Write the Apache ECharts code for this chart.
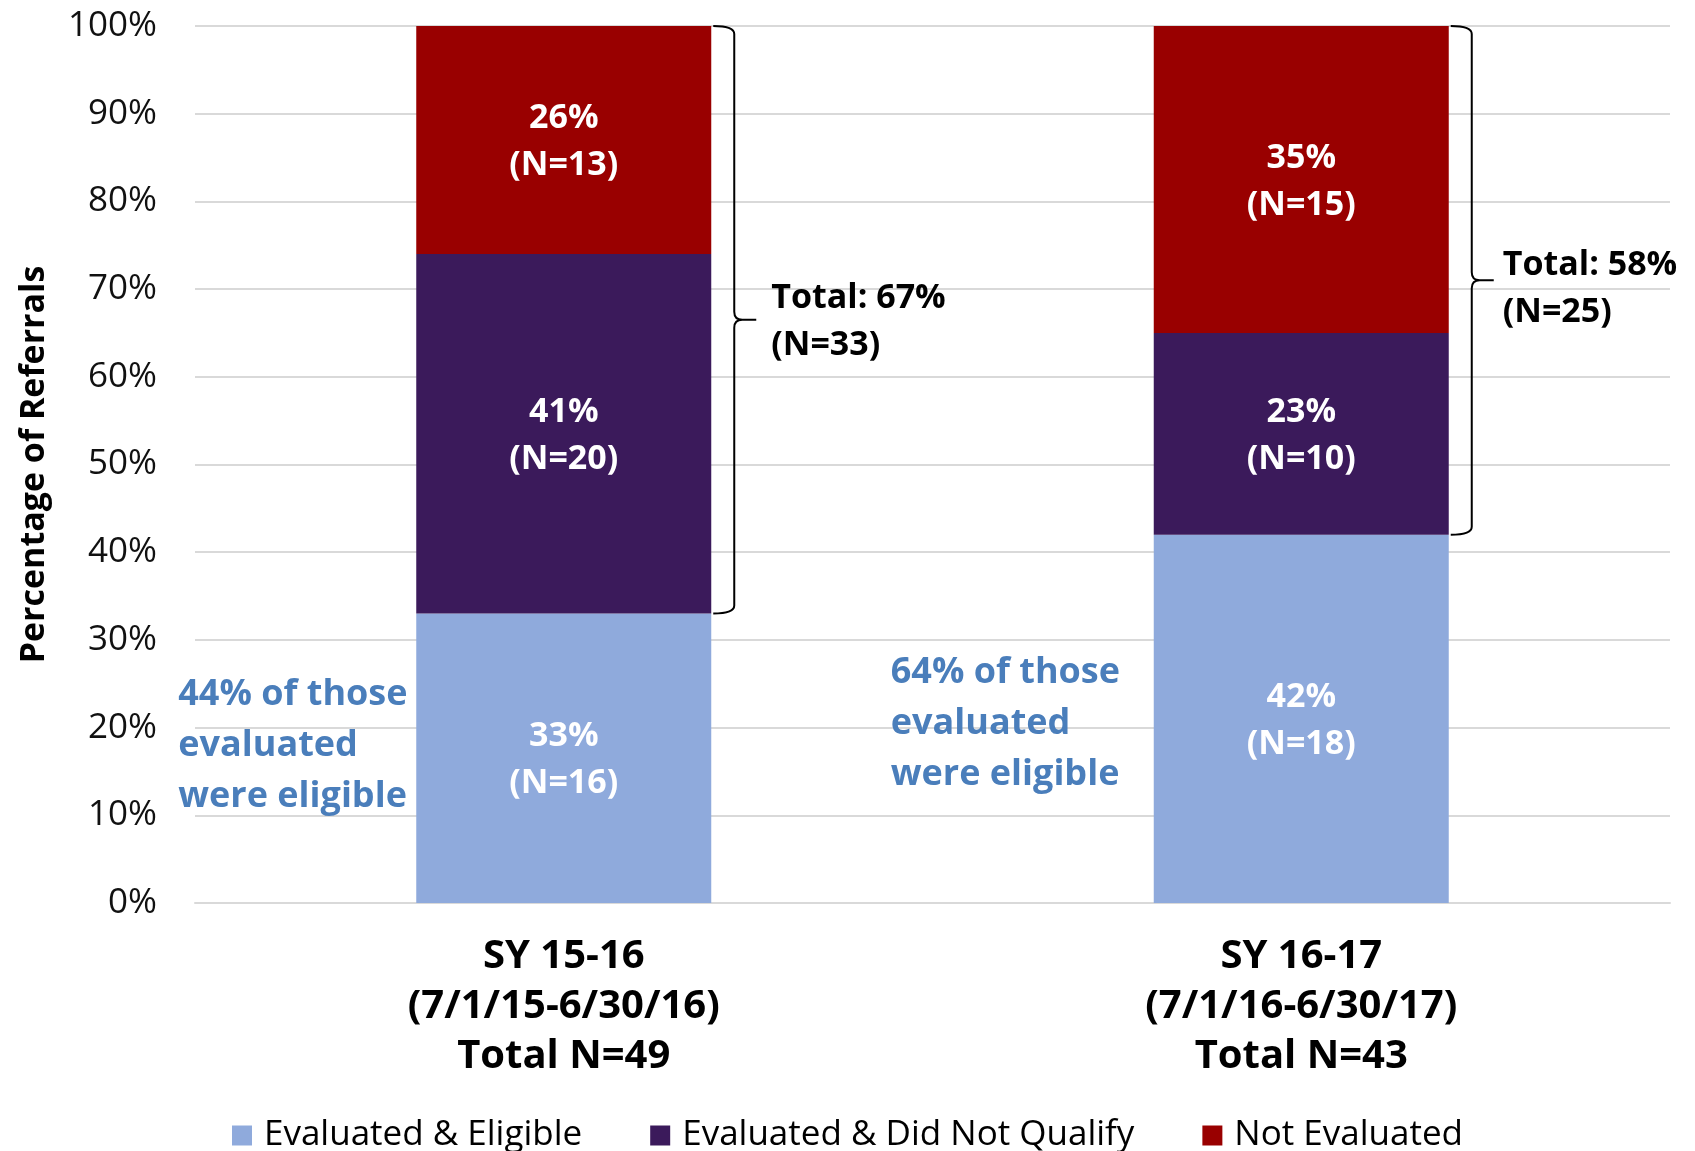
<!DOCTYPE html>
<html>
<head>
<meta charset="utf-8">
<script src="https://cdn.jsdelivr.net/npm/echarts@6/dist/echarts.min.js"></script>
<style>
html,body{margin:0;padding:0;background:#fff;}
#chart{width:1695px;height:1151px;}
</style>
</head>
<body>
<div id="chart"></div>
<script>
// ---- data ----
const schoolYears = ['SY 15-16', 'SY 16-17'];
const periods = ['(7/1/15-6/30/16)', '(7/1/16-6/30/17)'];
const totalN = [49, 43];

const seriesNames = ['Evaluated & Eligible', 'Evaluated & Did Not Qualify', 'Not Evaluated'];
const eligiblePct = [33, 42];
const eligibleN = [16, 18];
const notQualifyPct = [41, 23];
const notQualifyN = [20, 10];
const notEvalPct = [26, 35];
const notEvalN = [13, 15];

const bracketTotalPct = [67, 58];
const bracketTotalN = [33, 25];

const annotationText = ['44% of those\nevaluated\nwere eligible', '64% of those\nevaluated\nwere eligible'];

const yTicks = [0, 100, 10]; // min, max, interval

// ---- style / layout ----
const FONT = '"Open Sans", "Noto Sans", sans-serif';
const COLORS = ['#8FAADC', '#3B1A5B', '#990000'];
const BAR_RATIO = 0.4;
const annotationLayout = [{dx: 238, yVal: 26.6}, {dx: 263, yVal: 29.2}];
const bracketTextShift = [0, 6];

const categories = schoolYears.map((s, i) => s + '\n' + periods[i] + '\nTotal N=' + totalN[i]);

const pctSets = [eligiblePct, notQualifyPct, notEvalPct];
const nSets = [eligibleN, notQualifyN, notEvalN];

const chart = echarts.init(document.getElementById('chart'));

const barSeries = seriesNames.map((name, k) => ({
  name: name,
  type: 'bar',
  stack: 'total',
  barWidth: (BAR_RATIO * 100) + '%',
  itemStyle: {color: COLORS[k]},
  data: pctSets[k],
  label: {
    show: true,
    position: 'inside',
    offset: [0, 2],
    color: '#fff',
    fontFamily: FONT,
    fontWeight: 'bold',
    fontSize: 34,
    lineHeight: 47,
    formatter: p => p.value + '%\n(N=' + nSets[k][p.dataIndex] + ')'
  },
  emphasis: {disabled: true}
}));

const bracketData = categories.map((c, i) => [i, eligiblePct[i], eligiblePct[i] + notQualifyPct[i] + notEvalPct[i]]);

const bracketSeries = {
  type: 'custom',
  name: 'brackets',
  silent: true,
  z: 10,
  data: bracketData,
  encode: {x: 0, y: [1, 2]},
  renderItem: function (params, api) {
    const i = api.value(0);
    const lo = api.value(1), hi = api.value(2);
    const band = api.size([1, 0])[0];
    const cx = api.coord([i, 0])[0];
    const x0 = cx + band * BAR_RATIO / 2 + 2;
    const yTop = api.coord([i, hi])[1];
    const yBot = api.coord([i, lo])[1];
    const yMid = (yTop + yBot) / 2;
    const xv = x0 + 21, xt = xv + 22, r = 8;
    const d = 'M' + x0 + ' ' + yTop + ' Q' + xv + ' ' + yTop + ' ' + xv + ' ' + (yTop + r) +
      ' L' + xv + ' ' + (yMid - r) + ' Q' + xv + ' ' + yMid + ' ' + (xv + r) + ' ' + yMid +
      ' L' + xt + ' ' + yMid +
      ' M' + (xv + r) + ' ' + yMid + ' Q' + xv + ' ' + yMid + ' ' + xv + ' ' + (yMid + r) +
      ' L' + xv + ' ' + (yBot - r) + ' Q' + xv + ' ' + yBot + ' ' + x0 + ' ' + yBot;
    return {
      type: 'group',
      children: [
        {type: 'path', shape: {pathData: d}, style: {stroke: '#000', lineWidth: 2, fill: 'none'}},
        {type: 'text', x: xt + 15 - bracketTextShift[i], y: yMid + 2 + bracketTextShift[i], style: {
          text: 'Total: ' + bracketTotalPct[i] + '%\n(N=' + bracketTotalN[i] + ')',
          fill: '#000', fontFamily: FONT, fontWeight: 'bold', fontSize: 34, lineHeight: 47,
          align: 'left', verticalAlign: 'middle'
        }}
      ]
    };
  }
};

const annotationSeries = {
  type: 'custom',
  name: 'annotations',
  silent: true,
  z: 10,
  data: categories.map((c, i) => [i, annotationLayout[i].yVal]),
  encode: {x: 0, y: 1},
  renderItem: function (params, api) {
    const i = api.value(0);
    const band = api.size([1, 0])[0];
    const p = api.coord([i, api.value(1)]);
    const left = p[0] - band * BAR_RATIO / 2 - annotationLayout[i].dx;
    return {
      type: 'text', x: left, y: p[1],
      style: {
        text: annotationText[i], fill: '#4A7EBB', fontFamily: FONT, fontWeight: 'bold',
        fontSize: 36, lineHeight: 51, align: 'left', verticalAlign: 'top'
      }
    };
  }
};

chart.setOption({
  animation: false,
  backgroundColor: '#fff',
  grid: {left: 195, right: 25, top: 26, bottom: 248, containLabel: false},
  legend: {
    data: seriesNames,
    bottom: -7,
    left: 'center',
    icon: 'rect',
    itemWidth: 20,
    itemHeight: 20,
    itemGap: 68,
    textStyle: {fontFamily: FONT, fontSize: 35, color: '#000', padding: [0, 0, 0, 7]},
    selectedMode: false
  },
  xAxis: {
    type: 'category',
    data: categories,
    axisTick: {show: false},
    axisLine: {lineStyle: {color: '#D9D9D9', width: 2}},
    axisLabel: {
      fontFamily: FONT, fontWeight: 'bold', fontSize: 40, lineHeight: 50,
      color: '#000', margin: 29, interval: 0
    }
  },
  yAxis: {
    type: 'value',
    min: yTicks[0], max: yTicks[1], interval: yTicks[2],
    name: 'Percentage of Referrals',
    nameLocation: 'middle',
    nameGap: 144,
    nameTextStyle: {fontFamily: FONT, fontWeight: 'bold', fontSize: 34, color: '#000'},
    axisLabel: {formatter: '{value}%', fontFamily: FONT, fontSize: 35, color: '#111', margin: 38},
    splitLine: {lineStyle: {color: '#D9D9D9', width: 2}},
    axisLine: {show: false},
    axisTick: {show: false}
  },
  series: barSeries.concat([bracketSeries, annotationSeries])
});
</script>
</body>
</html>
